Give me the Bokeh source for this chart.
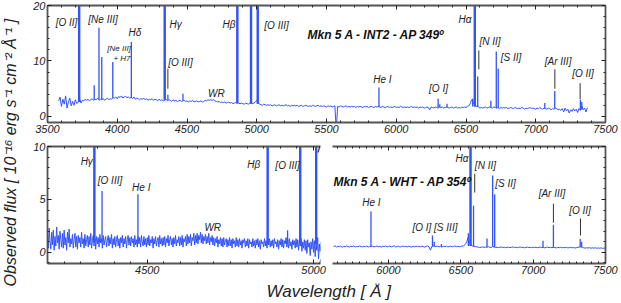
import numpy as np
from bokeh.plotting import figure
from bokeh.models import (Label, LinearAxis, SingleIntervalTicker, ColumnDataSource,
                          CustomJSTickFormatter, AllLabels)
from bokeh.core.properties import value
from bokeh.layouts import row, column
from bokeh.embed import file_html
from bokeh.resources import INLINE

# ---------------- data ----------------
# INT2 spectrum (top panel): continuum sampled every 10 A from 3580 A
int2_start = 3580
int2_step = 10
int2_flux = [
    2.8, 3.5, 1.8, 3.1, 2.2, 3.7, 1.5, 2.6, 3.3, 1.9,
    2.7, 2.0, 3.0, 2.3, 2.6, 3.2, 2.4, 2.9, 2.8, 3.1,
    2.9, 3.1, 2.8, 3.0, 3.2, 2.9, 3.1, 3.0, 3.3, 2.9,
    3.1, 3.0, 3.2, 2.9, 3.1, 3.3, 3.0, 3.2, 3.1, 3.4,
    3.3, 3.5, 3.2, 3.6, 3.4, 3.7, 3.3, 3.5, 3.6, 3.4,
    3.5, 3.3, 3.4, 3.2, 3.5, 3.1, 3.3, 3.2, 3.0, 3.2,
    3.1, 3.3, 3.0, 3.2, 2.9, 3.1, 3.0, 3.2, 2.9, 3.1,
    3.0, 2.8, 3.1, 2.9, 3.0, 2.8, 2.9, 3.1, 2.8, 3.0,
    2.9, 2.7, 3.0, 2.8, 2.9, 2.7, 2.8, 2.9, 2.7, 2.8,
    2.9, 2.7, 2.8, 2.6, 2.8, 2.7, 2.9, 2.6, 2.7, 2.8,
    2.6, 2.7, 2.8, 2.6, 2.7, 2.9, 2.8, 3.0, 2.9, 3.0,
    2.9, 3.0, 2.8, 2.7, 2.6, 2.7, 2.5, 2.6, 2.5, 2.6,
    2.4, 2.5, 2.6, 2.4, 2.5, 2.3, 2.4, 2.5, 2.3, 2.4,
    2.3, 2.4, 2.3, 2.2, 2.4, 2.3, 2.2, 2.4, 2.5, 2.3,
    2.4, 2.6, 2.9, 2.5, 2.2, 2.1, 2.0, 2.2, 2.1, 2.0,
    2.1, 2.0, 2.1, 1.9, 2.0, 2.1, 1.9, 2.0, 2.1, 1.9,
    2.0, 1.9, 2.0, 2.1, 1.9, 2.0, 1.8, 2.0, 1.9, 2.0,
    1.9, 2.0, 1.8, 1.9, 2.0, 1.8, 1.9, 2.0, 1.9, 1.8,
    1.9, 1.8, 2.0, 1.9, 1.8, 1.9, 2.0, 1.8, 1.9, 1.8,
    1.9, 1.8, 1.7, 1.9, 1.8, 1.9, 1.7, 1.8, 1.9, -2.5,
    1.8, 1.7, 1.9, 1.8, 1.7, 1.8, 1.9, 1.7, 1.8, 1.7,
    1.8, 1.7, 1.8, 1.6, 1.8, 1.7, 1.8, 1.7, 1.6, 1.8,
    1.7, 1.8, 1.6, 1.7, 1.8, 1.7, 1.6, 1.8, 1.7, 1.8,
    1.7, 1.6, 1.8, 1.7, 1.6, 1.7, 1.8, 1.6, 1.7, 1.6,
    1.7, 1.8, 1.6, 1.7, 1.6, 1.8, 1.7, 1.6, 1.7, 1.6,
    1.7, 1.6, 1.7, 1.8, 1.6, 1.7, 1.6, 1.7, 1.5, 1.7,
    1.6, 1.7, 1.5, 1.6, 1.7, 1.6, 1.2, 1.7, 1.6, 1.5,
    1.7, 1.6, 1.5, 1.7, 1.6, 1.7, 1.5, 1.6, 1.7, 1.6,
    1.5, 1.6, 1.7, 1.5, 1.6, 1.7, 1.5, 1.6, 1.5, 1.7,
    1.6, 1.7, 1.6, 1.8, 1.9, 2.3, 3.0, 2.6, 2.2, 1.8,
    1.9, 1.7, 1.5, 1.6, 1.5, 1.6, 1.7, 1.5, 1.6, 1.7,
    1.6, 1.5, 1.7, 1.6, 1.5, 1.6, 1.4, 1.6, 1.5, 1.6,
    1.5, 1.6, 1.4, 1.5, 1.6, 1.5, 1.4, 1.6, 1.5, 1.4,
    1.5, 1.4, 1.6, 1.5, 1.3, 1.5, 1.4, 1.5, 1.6, 1.4,
    1.5, 1.4, 1.3, 1.5, 1.4, 1.6, 1.4, 1.3, 1.5, 1.4,
    1.3, 1.5, 1.4, 1.2, 1.4, 1.3, 1.5, 1.4, 1.2, 1.3,
    1.1, 1.4, 0.8, 1.5, 1.0, 1.3, 0.6, 1.2, 0.9, 1.4,
    1.0, 1.3, 0.7, 1.4, 1.1, 1.9, 1.2, 1.5, 0.8, 1.6,
]
int2_line_wave = [3727, 3835, 3869, 3889, 3968, 4101, 4340, 4363, 4471, 4861, 4959, 5007,
                  5876, 6300, 6312, 6364, 6548, 6563, 6584, 6678, 6717, 6731, 7065, 7136,
                  7320, 7330]
int2_line_base = [2.6, 3.0, 3.1, 3.1, 3.3, 3.3, 3.0, 2.9, 2.8, 2.4, 2.3, 2.3,
                  1.7, 1.6, 1.6, 1.6, 1.8, 1.8, 1.7, 1.6, 1.5, 1.5, 1.4, 1.4,
                  1.2, 1.2]
int2_line_peak = [45, 5.6, 16.0, 10.7, 9.8, 13.4, 40, 3.9, 4.1, 60, 60, 90,
                  5.2, 3.2, 2.2, 2.3, 3.2, 90, 7.2, 2.8, 11.7, 8.6, 2.4, 4.6,
                  3.0, 2.6]

# WHT spectrum, blue part (bottom-left), every 2.5 A from 4200 A
wht_blue_start = 4200
wht_blue_step = 2.5
wht_blue_flux = [
    1.8, 0.4, 2.3, 1.1, 0.3, 1.9, 0.7, 2.1, 0.2, 1.5,
    0.6, 2.4, 0.9, 1.6, 0.3, 2.0, 1.2, 0.5, 1.8, 0.4,
    2.1, 0.7, 1.4, 0.2, 1.9, 0.9, 2.2, 0.5, 1.3, 0.8,
    1.7, 0.4, 1.2, 1.8, 0.5, 1.5, 0.3, 1.6, 0.9, 1.4,
    0.5, 1.9, 0.8, 1.3, 0.4, 1.7, 0.6, 1.2, 1.6, 0.5,
    1.5, 0.7, 1.8, 0.4, 1.1, 1.6, 0.6, 1.4, 0.3, 1.5,
    0.8, 1.4, 0.5, 1.7, 0.9, 1.3, 0.4, 1.6, 0.7, 1.2,
    1.5, 0.5, 1.1, 1.6, 0.6, 1.4, 0.8, 1.7, 0.4, 1.3,
    0.7, 1.5, 0.5, 1.2, 1.6, 0.6, 1.3, 0.4, 1.4, 0.9,
    1.6, 0.5, 1.3, 0.8, 1.5, 0.4, 1.2, 1.6, 0.7, 1.4,
    0.6, 1.5, 0.9, 1.3, 0.5, 1.6, 0.7, 1.2, 0.5, 1.5,
    0.8, 1.4, 0.5, 1.6, 1.0, 0.6, 1.5, 0.7, 1.3, 0.5,
    1.4, 0.7, 1.6, 0.6, 1.2, 0.9, 1.5, 0.4, 1.3, 0.8,
    1.5, 0.6, 1.1, 1.4, 0.5, 1.6, 0.8, 1.3, 0.6, 1.4,
    0.7, 1.5, 0.5, 1.3, 0.9, 1.6, 0.6, 1.2, 1.5, 0.7,
    1.3, 0.5, 1.4, 0.8, 1.6, 0.6, 1.2, 0.9, 1.5, 0.6,
    1.4, 0.7, 1.6, 0.5, 1.3, 1.0, 1.5, 0.6, 1.7, 0.8,
    1.5, 0.9, 1.7, 0.6, 1.4, 1.1, 1.8, 0.7, 1.6, 0.9,
    1.8, 0.8, 1.6, 1.2, 1.9, 0.9, 1.7, 0.8, 1.5, 1.1,
    1.7, 0.8, 1.5, 0.9, 1.8, 0.7, 1.4, 1.0, 1.6, 0.7,
    1.4, 0.6, 1.3, 0.9, 1.5, 0.5, 1.2, 0.8, 1.4, 0.6,
    1.3, 0.5, 1.4, 0.7, 1.1, 1.3, 0.5, 1.2, 0.6, 1.4,
    0.6, 1.2, 0.4, 1.3, 0.8, 1.1, 0.5, 1.4, 0.6, 1.2,
    0.5, 1.3, 0.7, 1.1, 0.4, 1.2, 0.9, 1.3, 0.5, 1.1,
    0.6, 1.3, 0.4, 1.2, 0.8, 1.0, 0.5, 1.3, 0.6, 1.1,
    0.4, 1.2, 0.7, 1.3, 0.5, 1.1, 0.3, 1.2, 0.8, 1.0,
    0.5, 1.3, 0.6, 1.1, 0.4, 1.2, 0.7, 1.3, 0.5, 1.1,
    0.6, 1.2, 0.4, 1.3, 0.8, 1.0, 0.5, 1.2, 0.3, 1.1,
    0.7, 1.3, 0.5, 1.2, 0.4, 1.1, 0.8, 1.4, 0.5, 1.2,
    0.4, 1.3, 0.6, 1.0, 0.3, 1.2, 0.7, 1.1, 0.4, 1.3,
    0.5, 1.2, 0.2, 1.1, 0.6, 1.3, 0.1, 1.0, 0.4, 1.2,
    0.2, 1.1, -0.1, 1.2, 0.5, 0.9, -0.3, 1.0, 0.3, 1.3,
    0.0, 1.1, -0.4, 0.9, 0.2, 1.4, -0.6, 0.8, 0.1, 1.0,
]
wht_blue_line_wave = [4341, 4364, 4472, 4862, 4922, 4960, 5008]
wht_blue_line_base = [1.0, 1.0, 0.9, 0.9, 0.9, 0.9, 0.8]
wht_blue_line_peak = [30, 5.8, 5.5, 30, 2.1, 30, 30]

# WHT spectrum, red part (bottom-right), every 10 A from 5620 A
wht_red_start = 5620
wht_red_step = 10
wht_red_flux = [
    0.55, 0.62, 0.50, 0.58, 0.53, 0.60, 0.48, 0.57, 0.52, 0.61,
    0.56, 0.50, 0.59, 0.54, 0.62, 0.51, 0.57, 0.53, 0.60, 0.55,
    0.52, 0.58, 0.54, 0.61, 0.50, 0.57, 0.55, 0.59, 0.52, 0.56,
    0.60, 0.53, 0.57, 0.50, 0.58, 0.55, 0.61, 0.52, 0.56, 0.59,
    0.53, 0.57, 0.62, 0.51, 0.55, 0.58, 0.50, 0.56, 0.60, 0.54,
    0.57, 0.52, 0.59, 0.55, 0.49, 0.58, 0.53, 0.60, 0.54, 0.57,
    0.52, 0.58, 0.55, 0.50, 0.57, 0.60, 0.53, 0.21, 0.56, 0.62,
    0.58, 0.55, 0.60, 0.53, 0.57, 0.51, 0.58, 0.55, 0.60, 0.52,
    0.56, 0.59, 0.53, 0.57, 0.61, 0.54, 0.58, 0.52, 0.57, 0.60,
    0.62, 0.75, 0.95, 1.40, 0.90, 0.70, 0.62, 0.58, 0.55, 0.52,
    0.50, 0.46, 0.48, 0.52, 0.47, 0.50, 0.48, 0.53, 0.49, 0.46,
    0.55, 0.50, 0.46, 0.49, 0.45, 0.48, 0.51, 0.46, 0.49, 0.44,
    0.47, 0.50, 0.45, 0.48, 0.52, 0.46, 0.49, 0.44, 0.48, 0.51,
    0.46, 0.49, 0.43, 0.47, 0.50, 0.45, 0.48, 0.44, 0.49, 0.46,
    0.48, 0.44, 0.47, 0.50, 0.45, 0.48, 0.43, 0.47, 0.50, 0.45,
    0.47, 0.44, 0.49, 0.45, 0.42, 0.47, 0.44, 0.48, 0.43, 0.46,
    0.44, 0.47, 0.42, 0.45, 0.48, 0.43, 0.46, 0.41, 0.45, 0.48,
    0.50, 0.55, 0.46, 0.43, 0.40, 0.44, 0.41, 0.45, 0.39, 0.43,
    0.40, 0.44, 0.38, 0.42, 0.39, 0.43, 0.37, 0.41, 0.40,
]
wht_red_line_wave = [5879, 6304, 6316, 6366, 6552, 6567, 6588, 6681, 6720, 6734,
                     7068, 7140, 7325, 7335]
wht_red_line_base = [0.55, 0.56, 0.56, 0.55, 0.60, 0.60, 0.55, 0.50, 0.50, 0.50,
                     0.47, 0.46, 0.48, 0.48]
wht_red_line_peak = [3.85, 1.6, 1.0, 0.8, 1.8, 30, 4.4, 1.3, 7.25, 5.5,
                     1.1, 2.6, 1.27, 1.0]

# line identifications
top_lab_text = ["[O II]", "[Ne III]", "H\u03b4", "H\u03b3", "[O III]", "WR", "H\u03b2",
                "[O III]", "He I", "[O I]", "H\u03b1", "[N II]", "[S II]", "[Ar III]", "[O II]"]
top_lab_x = [3636, 3898, 4127, 4418, 4453, 4711, 4801, 5142, 5901, 6303, 6493, 6672,
             6823, 7160, 7339]
top_lab_y = [16.9, 17.5, 15.1, 16.6, 9.7, 4.1, 16.6, 16.4, 6.7, 5.0, 17.5, 13.5,
             10.6, 9.9, 7.7]
top_small_text = ["[Ne III]", "+ H7"]
top_small_x = [4013, 4034]
top_small_y = [12.25, 10.45]
top_mark_wave = [4363, 6592, 7137, 7318]
top_mark_lo = [5.0, 8.5, 5.0, 3.1]
top_mark_hi = [8.6, 11.9, 8.5, 6.0]

blue_lab_text = ["H\u03b3", "[O III]", "He I", "WR", "H\u03b2", "[O III]"]
blue_lab_x = [4318, 4388, 4482, 4697, 4820, 4922]
blue_lab_y = [8.6, 6.8, 6.1, 2.35, 8.3, 8.2]

red_lab_text = ["He I", "[O I] [S III]", "H\u03b1", "[N II]", "[S II]", "[Ar III]", "[O II]"]
red_lab_x = [5882, 6321, 6508, 6670, 6809, 7130, 7324]
red_lab_y = [4.7, 2.35, 8.9, 8.2, 6.5, 5.55, 3.95]
red_mark_wave = [6596, 7140, 7327]
red_mark_lo = [5.65, 2.8, 1.6]
red_mark_hi = [7.43, 4.6, 3.2]

# ---------------- styling ----------------
FONT = "Liberation Sans"
BLUE = "#3152ff"
TXT = "#222222"


def make_fig(width, height, xr, yr, bl, br, bt, bb):
    p = figure(width=width, height=height, x_range=xr, y_range=yr,
               min_border_left=bl, min_border_right=br, min_border_top=bt,
               min_border_bottom=bb, toolbar_location=None, output_backend="svg",
               x_axis_type=None, y_axis_type=None)
    p.outline_line_color = None
    return p


def add_axis(p, side, interval, minor, labels):
    ax = LinearAxis(ticker=SingleIntervalTicker(interval=interval, num_minor_ticks=minor))
    ax.axis_line_color = "#555555"
    ax.axis_line_width = 1.8
    ax.major_tick_in = 4
    ax.major_tick_out = 0
    ax.minor_tick_in = 2
    ax.minor_tick_out = 0
    ax.major_tick_line_color = "#222222"
    ax.minor_tick_line_color = "#222222"
    ax.major_label_text_font = FONT
    ax.major_label_text_font_style = "italic"
    ax.major_label_text_color = TXT
    ax.major_label_policy = AllLabels()
    if labels:
        ax.major_label_text_font_size = "11px"
        ax.major_label_standoff = 2
    else:
        ax.formatter = CustomJSTickFormatter(code="return '';")
        ax.major_label_text_font_size = "1px"
        ax.major_label_standoff = 0
    p.add_layout(ax, side)


def draw_spectrum(p, start, step, flux, lw, lb, lp):
    wave = start + step * np.arange(len(flux))
    p.line(wave, flux, color=BLUE, line_width=1)
    p.segment(x0=lw, y0=lb, x1=lw, y1=lp, color=BLUE, line_width=1.3)
    strong = [i for i, v in enumerate(lp) if v > 20]
    p.segment(x0=[lw[i] for i in strong], y0=[lb[i] for i in strong],
              x1=[lw[i] for i in strong], y1=[lp[i] for i in strong],
              color=BLUE, line_width=2.4)


def draw_labels(p, xs, ys, texts, size="10px"):
    src = ColumnDataSource(dict(x=xs, y=ys, t=texts))
    p.text(x="x", y="y", text="t", source=src, text_font=value(FONT),
           text_font_style="italic", text_font_size=size, text_align="center",
           text_baseline="middle", text_color=TXT)


def draw_marks(p, w, lo, hi):
    p.segment(x0=w, y0=lo, x1=w, y1=hi, color="#333333", line_width=1)


# ---------------- top panel (INT2) ----------------
p_top = make_fig(597, 139, (3500, 7500), (-1.1, 20), 25, 14, 5, 17)
add_axis(p_top, "below", 500, 5, True)
add_axis(p_top, "above", 500, 5, False)
add_axis(p_top, "left", 10, 5, True)
add_axis(p_top, "right", 10, 5, False)
draw_spectrum(p_top, int2_start, int2_step, int2_flux,
              int2_line_wave, int2_line_base, int2_line_peak)
draw_labels(p_top, top_lab_x, top_lab_y, top_lab_text)
draw_labels(p_top, top_small_x, top_small_y, top_small_text, size="8px")
draw_marks(p_top, top_mark_wave, top_mark_lo, top_mark_hi)
p_top.add_layout(Label(x=5364, y=14.6, text="Mkn 5 A - INT2 - AP 349\u00ba",
                       text_font=FONT, text_font_style="bold italic",
                       text_font_size="12px", text_baseline="middle", text_color="#111111"))

# ---------------- bottom-left panel (WHT blue) ----------------
p_bl = make_fig(310, 144, (4200, 5021), (-1.05, 10), 25, 12, 7, 20)
add_axis(p_bl, "below", 500, 10, True)
add_axis(p_bl, "above", 500, 10, False)
add_axis(p_bl, "left", 5, 5, True)
draw_spectrum(p_bl, wht_blue_start, wht_blue_step, wht_blue_flux,
              wht_blue_line_wave, wht_blue_line_base, wht_blue_line_peak)
draw_labels(p_bl, blue_lab_x, blue_lab_y, blue_lab_text)
# axis-break marks, in the gap right of the frame
for yb in (10, -1.05):
    p_bl.add_layout(Label(x=5021, y=yb, text="/ /", text_font="DejaVu Sans",
                          text_font_size="12px", text_align="left",
                          text_baseline="middle", text_color="#000000",
                          x_offset=-3, level="overlay"))

# ---------------- bottom-right panel (WHT red) ----------------
p_br = make_fig(287, 144, (5613, 7500), (-1.05, 10), 0, 14, 7, 20)
add_axis(p_br, "below", 500, 10, True)
add_axis(p_br, "above", 500, 10, False)
add_axis(p_br, "right", 5, 5, False)
draw_spectrum(p_br, wht_red_start, wht_red_step, wht_red_flux,
              wht_red_line_wave, wht_red_line_base, wht_red_line_peak)
draw_labels(p_br, red_lab_x, red_lab_y, red_lab_text)
draw_marks(p_br, red_mark_wave, red_mark_lo, red_mark_hi)
p_br.add_layout(Label(x=5620, y=6.67, text="Mkn 5 A - WHT - AP 354\u00ba",
                      text_font=FONT, text_font_style="bold italic",
                      text_font_size="12px", text_baseline="middle", text_color="#111111"))

# ---------------- axis titles ----------------
p_ylab = make_fig(22, 303, (0, 1), (0, 1), 0, 0, 0, 0)
p_ylab.add_layout(Label(x=0.477, y=0.498, angle=np.pi / 2,
                        text="Observed flux [ 10\u207b\u00b9\u2076 erg s\u207b\u00b9 cm\u207b\u00b2 \u00c5\u207b\u00b9 ]",
                        text_font=FONT, text_font_style="italic", text_font_size="16px",
                        text_align="center", text_baseline="middle", text_color=TXT))

p_xlab = make_fig(597, 20, (0, 1), (0, 1), 0, 0, 0, 0)
p_xlab.add_layout(Label(x=0.504, y=0.6, text="Wavelength [ \u00c5 ]",
                        text_font=FONT, text_font_style="italic", text_font_size="17px",
                        text_align="center", text_baseline="middle", text_color=TXT))

layout = row(p_ylab, column(p_top, row(p_bl, p_br), p_xlab))

open("out.html", "w").write(file_html(layout, INLINE))
